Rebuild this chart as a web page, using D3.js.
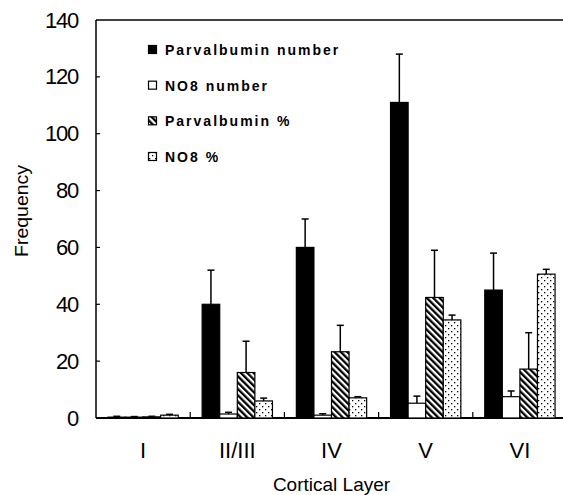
<!DOCTYPE html>
<html>
<head>
<meta charset="utf-8">
<script src="https://cdn.jsdelivr.net/npm/d3@7"></script>
<style>
  body { margin: 0; background: #fff; }
  text { font-family: "Liberation Sans", Arial, sans-serif; fill: #000; }
</style>
</head>
<body>
<div id="container"></div>
<script>
/* DATA */
const categories = ["I", "II/III", "IV", "V", "VI"];
const seriesNames = ["Parvalbumin number", "NO8 number", "Parvalbumin %", "NO8 %"];
const parvNumber = [0.3, 40, 60, 111, 45];
const parvNumberErr = [0.3, 12, 10, 17, 13];
const no8Number = [0.3, 1.4, 1, 5.2, 7.5];
const no8NumberErr = [0.2, 0.6, 0.5, 2.5, 2];
const parvPct = [0.4, 16, 23.3, 42.4, 17.2];
const parvPctErr = [0.2, 11, 9.3, 16.6, 12.8];
const no8Pct = [1, 6, 7.1, 34.5, 50.6];
const no8PctErr = [0.3, 1, 0.4, 1.7, 1.7];
const yTicks = [0, 20, 40, 60, 80, 100, 120, 140];

const values = [parvNumber, no8Number, parvPct, no8Pct];
const errors = [parvNumberErr, no8NumberErr, parvPctErr, no8PctErr];
const fills = ["#000", "#fff", "url(#hatch)", "url(#dots)"];

/* CONSTANTS */
const width = 563, height = 495;
const margin = { top: 20, bottom: 77, left: 96, right: -4 };

const svg = d3.select("#container").append("svg")
  .attr("width", width)
  .attr("height", height);

// patterns: back-slash hatch and staggered dots
const defs = svg.append("defs");
const hatch = defs.append("pattern")
  .attr("id", "hatch")
  .attr("patternUnits", "userSpaceOnUse")
  .attr("width", 4.5).attr("height", 4.5)
  .attr("patternTransform", "rotate(-45)");
hatch.append("rect").attr("width", 4.5).attr("height", 4.5).attr("fill", "#fff");
hatch.append("rect").attr("width", 2.3).attr("height", 4.5).attr("fill", "#000");

const dots = defs.append("pattern")
  .attr("id", "dots")
  .attr("patternUnits", "userSpaceOnUse")
  .attr("width", 6).attr("height", 6);
dots.append("rect").attr("width", 6).attr("height", 6).attr("fill", "#fff");
dots.append("rect").attr("x", 1).attr("y", 1).attr("width", 1.3).attr("height", 1.3).attr("fill", "#000");
dots.append("rect").attr("x", 4).attr("y", 4).attr("width", 1.3).attr("height", 1.3).attr("fill", "#000");

/* SCALES */
const xScale = d3.scaleBand()
  .domain(categories)
  .range([margin.left, width - margin.right]);

const xSub = d3.scaleBand()
  .domain(d3.range(seriesNames.length))
  .range([0, xScale.bandwidth()])
  .paddingOuter(0.68);

const yScale = d3.scaleLinear()
  .domain([0, 140])
  .range([height - margin.bottom, margin.top]);

/* AXES */
const yAxis = d3.axisLeft(yScale).tickValues(yTicks).tickSize(0).tickPadding(18);
const gy = svg.append("g")
  .attr("transform", `translate(${margin.left},0)`)
  .call(yAxis);
gy.select(".domain").remove();
gy.selectAll("text")
  .attr("font-size", 22)
  .attr("letter-spacing", -1.2)
  .attr("font-family", "Liberation Sans");

// inward tick marks
svg.selectAll(".ytick")
  .data(yTicks.slice(1, -1))
  .join("line")
  .attr("x1", margin.left).attr("x2", margin.left + 4)
  .attr("y1", d => yScale(d)).attr("y2", d => yScale(d))
  .attr("stroke", "#000").attr("stroke-width", 1.2);

const xAxis = d3.axisBottom(xScale).tickSize(0).tickPadding(24);
const gx = svg.append("g")
  .attr("transform", `translate(0,${height - margin.bottom})`)
  .call(xAxis);
gx.select(".domain").remove();
gx.selectAll("text").attr("font-size", 22).attr("font-family", "Liberation Sans");

// group separator ticks
svg.selectAll(".xtick")
  .data(categories.slice(1))
  .join("line")
  .attr("x1", d => xScale(d)).attr("x2", d => xScale(d))
  .attr("y1", yScale(0)).attr("y2", yScale(0) - 6)
  .attr("stroke", "#000").attr("stroke-width", 1.2);

// frame lines: left, bottom, top
svg.append("line")
  .attr("x1", margin.left).attr("x2", margin.left)
  .attr("y1", yScale(140)).attr("y2", yScale(0))
  .attr("stroke", "#000").attr("stroke-width", 1.5);
svg.append("line")
  .attr("x1", margin.left).attr("x2", width)
  .attr("y1", yScale(0)).attr("y2", yScale(0))
  .attr("stroke", "#000").attr("stroke-width", 1.8);
svg.append("line")
  .attr("x1", margin.left).attr("x2", width)
  .attr("y1", yScale(140)).attr("y2", yScale(140))
  .attr("stroke", "#000").attr("stroke-width", 1.5);

/* BARS */
const rows = [];
categories.forEach((c, ci) => {
  values.forEach((arr, si) => {
    rows.push({ cat: c, s: si, v: arr[ci], e: errors[si][ci] });
  });
});

// error bars first so bars sit on top
const errG = svg.append("g");
errG.selectAll("line.err")
  .data(rows)
  .join("line")
  .attr("class", "err")
  .attr("x1", d => xScale(d.cat) + xSub(d.s) + xSub.bandwidth() / 2)
  .attr("x2", d => xScale(d.cat) + xSub(d.s) + xSub.bandwidth() / 2)
  .attr("y1", d => yScale(d.v))
  .attr("y2", d => yScale(d.v + d.e))
  .attr("stroke", "#000").attr("stroke-width", 1.5);
errG.selectAll("line.cap")
  .data(rows)
  .join("line")
  .attr("class", "cap")
  .attr("x1", d => xScale(d.cat) + xSub(d.s) + xSub.bandwidth() / 2 - 3.5)
  .attr("x2", d => xScale(d.cat) + xSub(d.s) + xSub.bandwidth() / 2 + 3.5)
  .attr("y1", d => yScale(d.v + d.e))
  .attr("y2", d => yScale(d.v + d.e))
  .attr("stroke", "#000").attr("stroke-width", 1.5);

svg.append("g").selectAll("rect")
  .data(rows)
  .join("rect")
  .attr("x", d => xScale(d.cat) + xSub(d.s))
  .attr("width", xSub.bandwidth())
  .attr("y", d => yScale(d.v))
  .attr("height", d => yScale(0) - yScale(d.v))
  .attr("fill", d => fills[d.s])
  .attr("stroke", "#000")
  .attr("stroke-width", 1.2);

/* LEGEND */
const legendY = d3.scalePoint()
  .domain(seriesNames)
  .range([50, 157]);

const legend = svg.append("g").selectAll("g")
  .data(seriesNames)
  .join("g")
  .attr("transform", d => `translate(148,${legendY(d)})`);
legend.append("rect")
  .attr("x", 0.5).attr("y", -4.5)
  .attr("width", 8).attr("height", 8)
  .attr("fill", (d, i) => fills[i])
  .attr("stroke", "#000").attr("stroke-width", 1.2);
legend.append("text")
  .attr("x", 17).attr("y", 5)
  .attr("font-size", 14)
  .attr("font-weight", "bold")
  .attr("letter-spacing", 2)
  .text(d => d);

/* AXIS LABELS */
svg.append("text")
  .attr("x", (margin.left + width - margin.right) / 2)
  .attr("y", 491)
  .attr("text-anchor", "middle")
  .attr("font-size", 19)
  .text("Cortical Layer");

svg.append("text")
  .attr("transform", `translate(28,211) rotate(-90)`)
  .attr("text-anchor", "middle")
  .attr("font-size", 19)
  .attr("textLength", 92)
  .attr("lengthAdjust", "spacingAndGlyphs")
  .text("Frequency");
</script>
</body>
</html>
